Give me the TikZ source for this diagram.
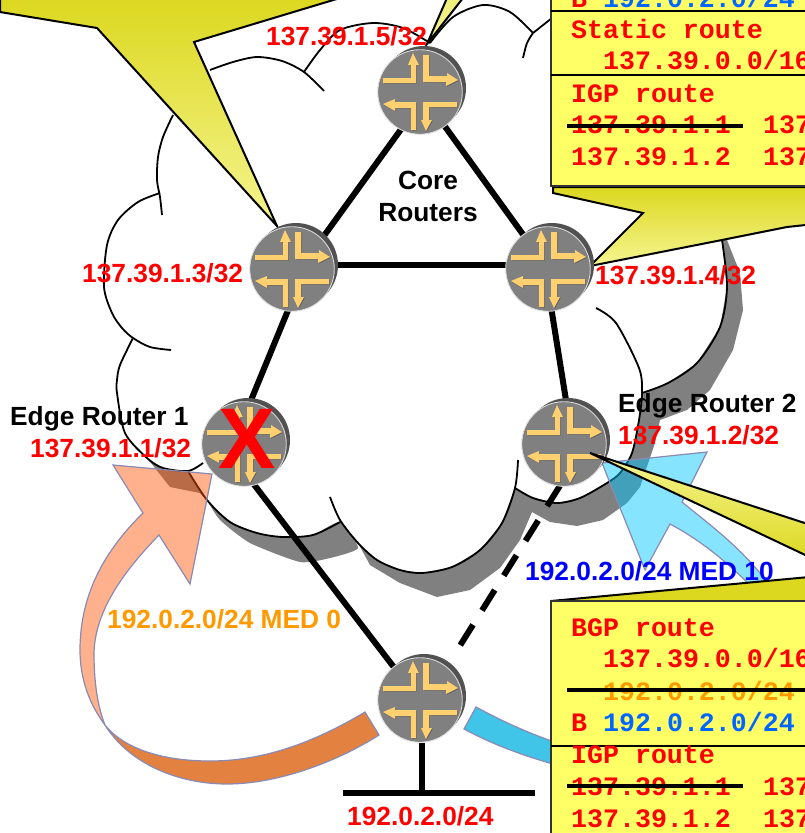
\documentclass[tikz,border=0pt]{standalone}
\usepackage{fontspec}
\setmainfont{Liberation Sans}
\newfontfamily\monob{Liberation Mono}
\definecolor{rbox}{HTML}{FFFF66}
\definecolor{ballD}{HTML}{DCD820}
\definecolor{ballL}{HTML}{F5F590}
\definecolor{bandg}{HTML}{808080}
\definecolor{arrowedge}{HTML}{8A8AB4}
\definecolor{medorange}{HTML}{FF9900}
\definecolor{routeblue}{HTML}{0066FF}
\definecolor{gl}{HTML}{FFD070}
\tikzset{
  x=1pt,y=-1pt,
  routerspot/.style={circle,minimum size=86pt,inner sep=0pt},
  link/.style={line width=6pt,black},
  cloudline/.style={line width=1.8pt,black},
  band/.style={fill=bandg},
  balloon/.style={draw=black,line width=2pt,line join=miter,top color=ballD,bottom color=ballL},
  rtbox/.style={fill=rbox,draw=black!80,line width=1.5pt},
  lab/.style={inner sep=0pt,anchor=base west,font=\fontsize{26.3}{28}\selectfont\bfseries},
  rlab/.style={lab,text=red},
  mono/.style={inner sep=0pt,anchor=base west,font=\monob\fontsize{26.6}{28}\selectfont\bfseries,text=red},
  strike/.style={line width=4pt,black},
  bigarrow/.style={draw=arrowedge,line width=1.2pt,line join=miter},
}
\newcommand{\rglyphs}[1]{%
  \fill[#1] (-37,-14) -- (-37,-9) -- (-4,-9) -- (-4,-27) -- (-1,-27) -- (-7,-39) -- (-12,-27) -- (-9,-27) -- (-9,-14) -- cycle;
  \fill[#1] (3,-37) -- (9,-37) -- (9,-16) -- (27,-16) -- (27,-19) -- (38,-12) -- (26,-6) -- (26,-10) -- (3,-10) -- cycle;
  \fill[#1] (-4,38) -- (-9,38) -- (-9,16) -- (-25,16) -- (-25,19) -- (-37,12) -- (-25,7) -- (-25,10) -- (-4,10) -- cycle;
  \fill[#1] (37,10) -- (37,15) -- (9,15) -- (9,28) -- (12,28) -- (6,39) -- (1,28) -- (3,28) -- (3,10) -- cycle;
}
\newcommand{\routerart}[1]{%
  \begin{scope}[shift={(#1)}]
    \fill[black!68] (4,-4) circle (42pt);
    \fill[bandg] (0,0) circle (42pt);
    \draw[black!15,line width=.9pt] (0,0) circle (42.3pt);
    \begin{scope}[shift={(.7,.7)}]\rglyphs{black!65}\end{scope}
    \rglyphs{gl}
  \end{scope}
}
\begin{document}
\begin{tikzpicture}
\path[use as bounding box] (0,0) rectangle (805,833);
\clip (0,0) rectangle (805,833);
\fill[white] (0,0) rectangle (805,833);

% router positions
\node[routerspot] (r5) at (420,92) {};
\node[routerspot] (r3) at (292,269) {};
\node[routerspot] (r4) at (548,269) {};
\node[routerspot] (r1) at (244,444) {};
\node[routerspot] (r2) at (564,444) {};
\node[routerspot] (rb) at (420,700) {};
\coordinate (lanL) at (343,793);
\coordinate (lanR) at (535,793);
\coordinate (lanM) at (422,793);

% cloud shadow
\fill[band] plot[smooth,tension=.35] coordinates {(207,500) (230,522) (257,533) (283,537) (313,535) (340,522) (358,548) (330,558) (300,562) (250,543) (220,520) (207,500)};
\fill[band] (147,458) -- (163,468) -- (188,472) -- (207,500) -- (200,493) -- (170,487) -- cycle;
\fill[band] (722,240) -- (727,287) -- (720,327) -- (697,363) -- (668,383) -- (642,393) -- (639,420) -- (632,453) -- (620,473) -- (607,483) -- (580,498) -- (557,503) -- (533,498) -- (515,488) -- (502,523) -- (480,550) -- (452,567) -- (422,573) -- (400,570) -- (377,560) -- (358,543)
  -- (370,565) -- (400,583) -- (437,597) -- (470,590) -- (500,568) -- (520,540) -- (532,512) -- (550,522) -- (577,526) -- (603,520) -- (627,503) -- (640,487) -- (655,443) -- (660,420) -- (687,410) -- (710,390) -- (733,350) -- (743,310) -- (740,273) -- (727,240) -- cycle;

% cloud outline
\draw[cloudline] plot[smooth,tension=.5] coordinates {(210,70) (233,62) (257,57) (282,61) (304,72) (324,91)};
\draw[cloudline] plot[smooth,tension=.5] coordinates {(304,72) (320,50) (340,30) (373,23) (403,28) (430,43)};
\draw[cloudline] plot[smooth,tension=.5] coordinates {(430,43) (453,17) (483,5) (510,12) (533,33)};
\draw[cloudline] (533,33) -- (552,18);
\draw[cloudline] plot[smooth,tension=.5] coordinates {(533,33) (527,43) (523,58)};
\draw[cloudline] plot[smooth,tension=.5] coordinates {(173,115) (163,137) (158,157) (157,180) (160,197) (162,215)};
\draw[cloudline] plot[smooth,tension=.5] coordinates {(160,193) (138,202) (118,220) (107,245) (104,287) (112,313) (122,328) (133,338) (150,347) (171,350)};
\draw[cloudline] plot[smooth,tension=.5] coordinates {(133,338) (120,365) (117,380) (117,393) (125,433) (147,458) (163,468) (188,471) (203,463)};
\draw[cloudline] plot[smooth,tension=.5] coordinates {(188,471) (207,500) (230,522) (257,533) (283,537) (313,535) (340,522)};
\draw[cloudline] plot[smooth,tension=.5] coordinates {(330,497) (340,520) (358,543) (377,560) (400,570) (422,573) (452,567) (480,550) (502,523) (515,488) (518,460)};
\draw[cloudline] plot[smooth,tension=.5] coordinates {(515,488) (533,498) (557,503) (580,498) (607,483) (620,473) (632,453) (639,420) (642,393) (639,368) (616,323) (596,308)};
\draw[cloudline] plot[smooth,tension=.5] coordinates {(642,393) (668,383) (697,363) (720,327) (727,287) (722,240)};

% links
\draw[link] ([xshift=13pt]r3.center) -- ([xshift=-11pt]r1.center);
\draw[link] ([xshift=8pt]r3.center) -- ([xshift=8pt]r5.center);
\draw[link] (r5.center) -- (r4.center);
\draw[link] ([yshift=4pt]r3.center) -- ([yshift=4pt]r4.center);
\draw[link] ([xshift=-3pt]r4.center) -- ([xshift=9pt]r2.center);
\draw[link] ([xshift=-21pt]r1.center) -- ([xshift=-1pt]rb.center);
\draw[link,dash pattern=on 24pt off 17pt,dash phase=36.3pt,shorten <=60pt] ([xshift=6pt]rb.center) -- ([xshift=22pt]r2.center);
\draw[link] (lanM |- rb.south) -- (lanM);
\draw[link] (lanL) -- (lanR);

% big arrows
\fill[fill={rgb,255:red,227;green,130;blue,64},draw=arrowedge,line width=1.2pt] (105,725) .. controls (130,765) and (180,784) .. (227,784) .. controls (280,784) and (340,760) .. (379,735) -- (365,712) .. controls (310,745) and (260,761) .. (210,761) .. controls (165,761) and (125,750) .. (105,725) -- cycle;
\path[bigarrow,fill={rgb,255:red,255;green,80;blue,0},fill opacity=.45] (143,513) .. controls (100,555) and (80,600) .. (80,650) .. controls (80,680) and (90,705) .. (105,725) .. controls (97,705) and (94,680) .. (94,653) .. controls (95,610) and (125,570) .. (159,535) -- (190,584) -- (212,474) -- (113,465) -- cycle;
\path[bigarrow,fill={rgb,255:red,64;green,196;blue,232}] (476,707) .. controls (500,720) and (525,732) .. (560,744) -- (560,766) .. controls (520,755) and (490,743) .. (464,729) -- cycle;
\path[bigarrow,fill={rgb,255:red,0;green,198;blue,255},fill opacity=.47] (602,463) -- (707,452) -- (682,502) .. controls (710,525) and (745,550) .. (773,590) -- (755,590) .. controls (725,560) and (700,540) .. (670,524) -- (645,570) -- cycle;

% balloons
\path[balloon] (0,12) -- (97,28) -- (277,226) -- (194,42) -- (340,-2) -- (0,-2) -- cycle;
\path[balloon,top color=ballL!80!ballD,bottom color=ballL] (427,44) -- (447,-2) -- (463,-2) -- cycle;
\path[balloon] (553,187) -- (553,193) -- (643,213) -- (590,266) -- (722,240) -- (787,227) -- (815,224) -- (815,187) -- cycle;
\path[balloon,top color=ballD,bottom color=ballD] (551,601) -- (820,576) -- (820,603) -- cycle;

% upper table
\path[rtbox] (551,-10) rectangle (820,186);
\draw[line width=1.5pt,black] (551,11) -- (820,11);
\draw[line width=1.5pt,black] (551,75) -- (820,75);
\node[mono] (tb) at (571,7) {B};
\node[mono,text=routeblue] (tbn) at (603,7) {192.0.2.0/24};
\node[mono] (ts) at (571,38) {Static route};
\node[mono] (tsn) at (603,69) {137.39.0.0/16};
\node[mono] (ti) at (571,102) {IGP route};
\node[mono] (ti1) at (571,133) {137.39.1.1};
\node[mono] (ti1b) at (763,133) {137};
\node[mono] (ti2) at (571,165) {137.39.1.2};
\node[mono] (ti2b) at (763,165) {137};
\draw[strike] (567,126) -- (743,126);

% lower table
\path[rtbox] (551,601) rectangle (820,845);
\draw[line width=1.5pt,black] (551,746) -- (820,746);
\node[mono] (bb) at (571,636) {BGP route};
\node[mono] (bn) at (603,667) {137.39.0.0/16};
\node[mono,text=medorange] (bo) at (603,700) {192.0.2.0/24};
\draw[strike] (567,690) -- (820,690);
\node[mono] (bB) at (571,731) {B};
\node[mono,text=routeblue] (bB2) at (603,731) {192.0.2.0/24};
\node[mono] (bi) at (571,763) {IGP route};
\node[mono] (bi1) at (571,795) {137.39.1.1};
\node[mono] (bi1b) at (763,795) {137};
\node[mono] (bi2) at (571,827) {137.39.1.2};
\node[mono] (bi2b) at (763,827) {137};
\draw[strike] (567,786) -- (743,786);

% routers
\routerart{r5}
\routerart{r3}
\routerart{r4}
\routerart{r1}
\routerart{r2}
\routerart{rb}
% balloon tip over Edge Router 2
\path[balloon,top color=ballL,bottom color=ballD] (590,453) -- (820,528) -- (820,562) -- cycle;
\node[inner sep=0pt,text=red,font=\fontsize{86}{90}\selectfont\bfseries] (xmark) at (247,439) {X};

% labels
\node[rlab] (l5) at (266,45) {137.39.1.5/32};
\node[rlab] (l3) at (82,282) {137.39.1.3/32};
\node[rlab] (l4) at (595,284) {137.39.1.4/32};
\node[lab,anchor=base] (core) at (428,189) {Core};
\node[lab,anchor=base] (routers) at (428,221) {Routers};
\node[lab] (e1) at (10,425) {Edge Router 1};
\node[rlab] (l1) at (30,457) {137.39.1.1/32};
\node[lab] (e2) at (618,412) {Edge Router 2};
\node[rlab] (l2) at (618,444) {137.39.1.2/32};
\node[lab,text=blue] (m10) at (525,580) {192.0.2.0/24 MED 10};
\node[lab,text=medorange] (m0) at (107,628) {192.0.2.0/24 MED 0};
\node[rlab] (net) at (347,825) {192.0.2.0/24};
\end{tikzpicture}
\end{document}
